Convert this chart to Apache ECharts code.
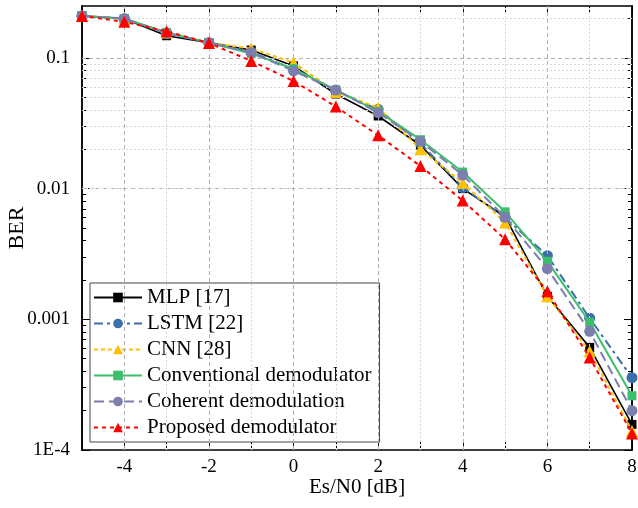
<!DOCTYPE html>
<html>
<head>
<meta charset="utf-8">
<script src="https://cdn.jsdelivr.net/npm/echarts@6/dist/echarts.min.js"></script>
<style>
    html, body { margin: 0; padding: 0; background: #fff; }
    #ber-chart { width: 638px; height: 508px; }
</style>
</head>
<body>
<div id="ber-chart"></div>
<script>
var snr = [-5, -4, -3, -2, -1, 0, 1, 2, 3, 4, 5, 6, 7, 8];
var mlp = [0.21, 0.20, 0.148, 0.131, 0.115, 0.087, 0.053, 0.036, 0.0215, 0.0100, 0.0061, 0.0015, 0.00061, 0.000157];
var lstm = [0.21, 0.20, 0.155, 0.131, 0.111, 0.082, 0.056, 0.0405, 0.0222, 0.0102, 0.0060, 0.00307, 0.00102, 0.000358];
var cnn = [0.21, 0.20, 0.157, 0.131, 0.118, 0.0924, 0.055, 0.0417, 0.0200, 0.0111, 0.0055, 0.0015, 0.00057, 0.00014];
var conventional = [0.21, 0.20, 0.157, 0.131, 0.108, 0.083, 0.057, 0.039, 0.0237, 0.0134, 0.00665, 0.00278, 0.00095, 0.00026];
var coherent = [0.21, 0.20, 0.155, 0.131, 0.110, 0.0796, 0.0569, 0.0382, 0.0231, 0.0127, 0.00604, 0.00244, 0.00081, 0.0002];
var proposed = [0.21, 0.189, 0.16, 0.13, 0.095, 0.0667, 0.0425, 0.0256, 0.0149, 0.0081, 0.0041, 0.00164, 0.00051, 0.000134];

var names = ['MLP [17]', 'LSTM [22]', 'CNN [28]', 'Conventional demodulator', 'Coherent demodulation', 'Proposed demodulator'];
var xLabels = [-4, -2, 0, 2, 4, 6, 8];
var xMajorGrid = [-4, -2, 0, 2, 4, 6];
var xMinorGrid = [-3, -1, 1, 3, 5, 7];
var yDecades = [0.0001, 0.001, 0.01, 0.1];
var yMinor = [];
yDecades.forEach(function (d) {
    for (var m = 2; m <= 9; m++) {
        if (m * d < 0.25) yMinor.push(m * d);
    }
});

var font = '"Liberation Serif", "Times New Roman", serif';

function pairs(vals) {
    return snr.map(function (x, i) { return [x, vals[i]]; });
}

function yLabel(v) {
    if (Math.abs(v - 0.0001) < 1e-9) return '1E-4';
    if (Math.abs(v - 0.001) < 1e-9) return '0.001';
    if (Math.abs(v - 0.01) < 1e-8) return '0.01';
    if (Math.abs(v - 0.1) < 1e-7) return '0.1';
    return '';
}

function yAxisDef(pos, ticks, len, labels) {
    return {
        type: 'log',
        logBase: 10,
        position: pos,
        min: 0.0001,
        max: 0.25,
        axisLine: { show: true, onZero: false, lineStyle: { color: '#000', width: 1.5 } },
        axisTick: { show: true, inside: true, length: len, customValues: ticks, lineStyle: { color: '#000', width: 1 } },
        axisLabel: labels ? {
            show: true, customValues: yDecades, formatter: yLabel, margin: 12,
            color: '#000', fontFamily: font, fontSize: 19
        } : { show: false },
        splitLine: { show: false },
        minorTick: { show: false }
    };
}

var major = { color: '#b0b0b0', type: [4, 3], width: 1, opacity: 1 };
var minor = { color: '#d8d8d8', type: [2, 2], width: 1, opacity: 1 };
var gridLines = [];
xMajorGrid.forEach(function (v) { gridLines.push({ xAxis: v, lineStyle: major }); });
xMinorGrid.forEach(function (v) { gridLines.push({ xAxis: v, lineStyle: minor }); });
[0.001, 0.01, 0.1].forEach(function (v) { gridLines.push({ yAxis: v, lineStyle: major }); });
yMinor.forEach(function (v) { gridLines.push({ yAxis: v, lineStyle: minor }); });

var styles = [
    { color: '#000000', type: 'solid', width: 1.6, symbol: 'rect', size: 9 },
    { color: '#3b6fa8', type: [9, 4, 3, 4], width: 2, symbol: 'circle', size: 11 },
    { color: '#ffc000', type: [4, 3], width: 2, symbol: 'triangle', size: 12 },
    { color: '#3cbf6b', type: 'solid', width: 2, symbol: 'rect', size: 9 },
    { color: '#7c7fae', type: [10, 5], width: 2, symbol: 'circle', size: 11 },
    { color: '#ff0000', type: [4, 4], width: 2, symbol: 'triangle', size: 12 }
];
var values = [mlp, lstm, cnn, conventional, coherent, proposed];

var series = [{
    name: 'grid',
    type: 'line',
    data: [[-5, 0.0001]],
    symbol: 'none',
    z: 1,
    silent: true,
    markLine: {
        silent: true,
        symbol: ['none', 'none'],
        label: { show: false },
        emphasis: { disabled: true },
        animation: false,
        data: gridLines
    }
}];
names.forEach(function (n, i) {
    var s = styles[i];
    series.push({
        name: n,
        type: 'line',
        data: pairs(values[i]),
        z: 3 + i,
        symbol: s.symbol,
        symbolSize: s.size,
        showAllSymbol: true,
        itemStyle: { color: s.color },
        lineStyle: { color: s.color, type: s.type, width: s.width }
    });
});

var myChart = echarts.init(document.getElementById('ber-chart'));
var option = {
    animation: false,
    backgroundColor: '#fff',
    grid: { left: 82, right: 6, top: 6, bottom: 58, containLabel: false, outerBoundsMode: 'none' },
    legend: {
        data: names,
        orient: 'vertical',
        left: 90,
        top: 283,
        padding: [4, 8, 4, 3],
        itemGap: 5,
        itemWidth: 48,
        itemHeight: 12,
        backgroundColor: '#fff',
        borderColor: '#444',
        borderWidth: 1,
        textStyle: { color: '#000', fontFamily: font, fontSize: 21 }
    },
    xAxis: [{
        type: 'value',
        position: 'bottom',
        min: -5,
        max: 8,
        interval: 1,
        name: 'Es/N0 [dB]',
        nameLocation: 'middle',
        nameGap: 27,
        nameMoveOverlap: false,
        nameTextStyle: { color: '#000', fontFamily: font, fontSize: 21 },
        axisLine: { show: true, onZero: false, lineStyle: { color: '#000', width: 1.5 } },
        axisTick: { show: true, inside: true, length: 8, lineStyle: { color: '#000' } },
        axisLabel: {
            customValues: xLabels,
            margin: 8,
            color: '#000', fontFamily: font, fontSize: 19
        },
        splitLine: { show: false }
    }, {
        type: 'value',
        position: 'top',
        min: -5,
        max: 8,
        interval: 1,
        axisLine: { show: true, onZero: false, lineStyle: { color: '#000', width: 1.5 } },
        axisTick: { show: true, inside: true, length: 8, lineStyle: { color: '#000' } },
        axisLabel: { show: false },
        splitLine: { show: false }
    }],
    yAxis: [
        Object.assign(yAxisDef('left', yDecades, 8, true), {
            name: 'BER',
            nameLocation: 'middle',
            nameGap: 54,
            nameMoveOverlap: false,
            nameTextStyle: { color: '#000', fontFamily: font, fontSize: 22 }
        }),
        yAxisDef('left', yMinor, 4, false),
        yAxisDef('right', yDecades, 8, false),
        yAxisDef('right', yMinor, 4, false)
    ],
    series: series
};
myChart.setOption(option);
</script>
</body>
</html>
